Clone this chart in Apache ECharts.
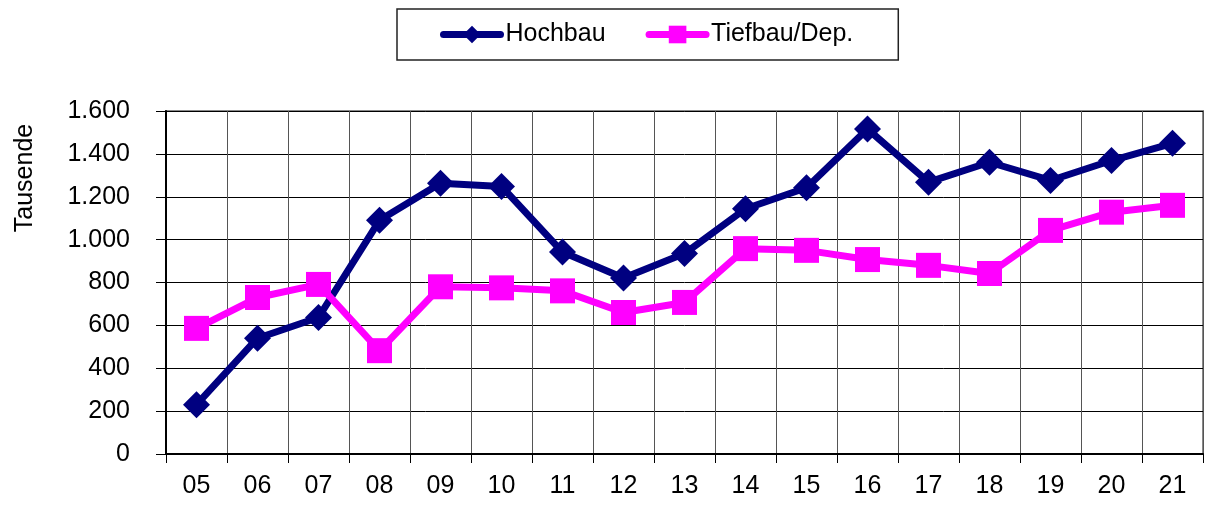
<!DOCTYPE html>
<html>
<head>
<meta charset="utf-8">
<script src="https://cdn.jsdelivr.net/npm/echarts@6/dist/echarts.min.js"></script>
<style>
  html, body { margin: 0; padding: 0; background: #fff; }
  #main { width: 1205px; height: 506px; }
</style>
</head>
<body>
<div id="main"></div>
<script>
let years = ['05', '06', '07', '08', '09', '10', '11', '12', '13', '14', '15', '16', '17', '18', '19', '20', '21'];
let hochbau = [230, 540, 637, 1090, 1263, 1248, 942, 821, 935, 1144, 1242, 1516, 1268, 1361, 1276, 1369, 1449];
let tiefbau = [586, 730, 791, 482, 780, 775, 761, 660, 707, 958, 950, 907, 880, 842, 1043, 1128, 1160];

let font = 'Liberation Sans';
let chart = echarts.init(document.getElementById('main'));

let option = {
  animation: false,
  color: ['#000080', '#ff00ff'],
  textStyle: { fontFamily: font },
  legend: {
    left: 397,
    top: 9,
    padding: [13, 45, 13, 43],
    borderColor: '#222',
    borderWidth: 1.5,
    itemGap: 40,
    itemWidth: 57,
    itemHeight: 22,
    lineStyle: { width: 7, cap: 'round' },
    textStyle: { fontSize: 25, color: '#000', fontFamily: font },
    data: ['Hochbau', 'Tiefbau/Dep.']
  },
  grid: {
    left: 166,
    right: 2,
    top: 111,
    bottom: 52,
    show: true,
    borderColor: '#888',
    borderWidth: 2
  },
  graphic: [{
    type: 'text',
    x: 25,
    y: 178,
    rotation: Math.PI / 2,
    style: {
      text: 'Tausende',
      font: '25px "Liberation Sans"',
      fill: '#000',
      textAlign: 'center',
      textVerticalAlign: 'middle'
    }
  }],
  xAxis: {
    type: 'category',
    data: years,
    boundaryGap: true,
    axisLine: { lineStyle: { color: '#000', width: 2 } },
    axisTick: { show: true, length: 9, lineStyle: { color: '#000' } },
    axisLabel: { fontSize: 25, color: '#000', margin: 20 },
    splitLine: { show: true, lineStyle: { color: '#555', width: 1 } }
  },
  yAxis: {
    type: 'value',
    min: 0,
    max: 1600,
    interval: 200,
    axisLine: { show: true, lineStyle: { color: '#000', width: 2 } },
    axisTick: { show: true, length: 10, lineStyle: { color: '#000' } },
    axisLabel: {
      fontSize: 25,
      color: '#000',
      margin: 36,
      formatter: function (v) {
        return v >= 1000 ? Math.floor(v / 1000) + '.' + String(v % 1000).padStart(3, '0') : String(v);
      }
    },
    splitLine: { show: true, lineStyle: { color: '#000', width: 1 } }
  },
  series: [
    {
      name: 'Hochbau',
      type: 'line',
      data: hochbau,
      symbol: 'diamond',
      symbolSize: 27,
      lineStyle: { width: 7, color: '#000080' },
      itemStyle: { color: '#000080' }
    },
    {
      name: 'Tiefbau/Dep.',
      type: 'line',
      data: tiefbau,
      symbol: 'rect',
      symbolSize: 25,
      lineStyle: { width: 7, color: '#ff00ff' },
      itemStyle: { color: '#ff00ff' }
    }
  ]
};

chart.setOption(option);
</script>
</body>
</html>
